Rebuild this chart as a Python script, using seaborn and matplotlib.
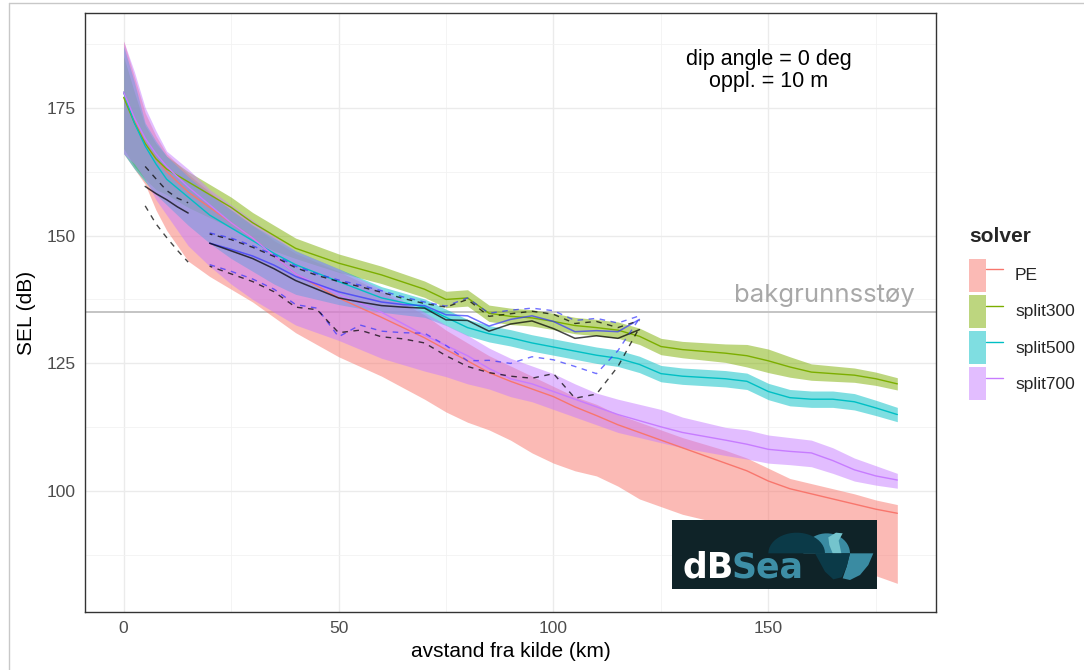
import numpy as np
import pandas as pd
import matplotlib
matplotlib.use("Agg")
import matplotlib.pyplot as plt
import seaborn as sns
from matplotlib.patches import Patch, Rectangle, Polygon
from matplotlib.lines import Line2D
from matplotlib.legend_handler import HandlerTuple

# ---------------- data ----------------
model_km = [0, 2.5, 5, 7.5, 10, 15, 20, 25, 30, 35, 40, 50, 60, 70, 75, 80, 85, 90, 95, 100,
            105, 110, 115, 120, 125, 130, 140, 145, 150, 155, 160, 165, 170, 175, 180]

pe_mid = [178, 172.5, 168, 165, 162.5, 158.5, 155.5, 152.5, 149.5, 146, 142.5, 137.8, 134, 130, 127.7,
          125.5, 123.2, 121.5, 120, 118.5, 116.5, 114.8, 113, 111.5, 110, 108.5, 105.5, 104, 102, 100.5,
          99.5, 98.5, 97.5, 96.5, 95.7]
pe_hi = [188, 181, 174, 169.5, 166, 162, 158.5, 155, 152, 149, 146.5, 143, 139, 134.5, 131.5, 129, 126.5,
         124.5, 122.5, 120.5, 118.5, 117, 115, 113.5, 112, 110.5, 108, 106.5, 104.5, 102.5, 101.5, 100.5,
         99.5, 98.3, 97.4]
pe_lo = [166, 163, 160, 155, 151, 145, 142, 139.5, 137, 134, 131, 126.3, 122.5, 118, 115.5, 113.5, 112,
         110, 107.5, 105.5, 104, 103, 101, 98.5, 97, 95.5, 93.5, 92.5, 91, 89.5, 88, 86.5, 85, 83.5, 82]

s300_mid = [177, 172, 168, 165, 163, 160.5, 158, 155.5, 152.5, 150, 147.5, 144.6, 142.3, 139.5, 137.5,
            137.8, 134.8, 134.2, 133.9, 133.2, 132.4, 132, 131.5, 130.3, 128.3, 127.7, 127, 126.5, 125.5,
            124.3, 123.3, 123, 122.7, 122, 121]
s300_hi = [185, 178, 171.5, 168, 165.5, 162.5, 160, 157.5, 154.5, 152, 149.5, 146.4, 144, 141.1, 139.1,
           139.4, 136.4, 135.8, 135.5, 134.8, 134, 133.6, 133.1, 131.9, 129.9, 129.3, 128.8, 128.7, 127.8,
           126.3, 124.9, 124.5, 124.1, 123.3, 122.2]
s300_lo = [167, 163.5, 161, 159, 158, 155.5, 153.5, 151.5, 149, 147, 145.5, 142.8, 140.6, 137.9, 135.9,
           136.2, 133.2, 132.6, 132.3, 131.6, 130.8, 130.4, 129.9, 128.7, 126.7, 126.1, 125.2, 124.3, 123.2,
           122.3, 121.7, 121.5, 121.3, 120.7, 119.8]

s500_mid = [178, 172, 167.5, 164, 161, 157.5, 154, 151.5, 149, 146.5, 144.3, 141, 137.8, 136, 134, 132,
            130.8, 130, 129, 128.2, 127.4, 126.6, 126, 124.8, 123, 122.5, 122, 121.5, 119.5, 118.3, 118,
            118, 117.5, 116.3, 115]
s500_hi = [187, 180, 172, 168.5, 165.5, 161.5, 158, 155, 152, 149.5, 147, 143.5, 140, 137.6, 135.6,
           133.6, 132.4, 131.6, 130.6, 129.8, 129, 128.2, 127.6, 126.4, 124.6, 124.1, 123.6, 123.1, 121.1,
           119.9, 119.6, 119.6, 119.1, 117.8, 116.4]
s500_lo = [166, 163, 160.5, 158, 156, 152, 148.5, 145.5, 143, 140.5, 138.5, 136.5, 135, 134, 132.4,
           130.4, 129.2, 128.4, 127.4, 126.6, 125.8, 125, 124.4, 123.2, 121.4, 120.9, 120.4, 119.9, 117.9,
           116.7, 116.4, 116.4, 115.9, 114.8, 113.6]

s700_mid = [178, 173, 169, 166, 163.5, 159.5, 156, 152.5, 149.5, 146, 142.5, 138.5, 135, 130.5, 128.5,
            126.5, 124, 122, 121, 119.5, 118, 116.5, 115, 113.8, 112.6, 111.5, 110, 109.2, 108.2, 107.8,
            107.5, 106, 104.2, 103, 102.2]
s700_hi = [188, 182, 175, 170.5, 166.5, 163, 159, 156, 153, 150, 147, 143.5, 139.5, 135, 132.5, 130.5, 128,
           126, 124.5, 123, 121, 119.2, 118, 117, 116, 114.5, 112.5, 112, 111, 110.5, 110, 108.5, 106.5,
           105, 103.5]
s700_lo = [166, 164, 161, 157, 154, 148, 144, 140.5, 137.5, 135, 132.5, 129.5, 126, 123.5, 122.4, 121,
           120, 118.5, 117.5, 116, 114.5, 113, 111.5, 110.5, 109.5, 108.5, 107, 106.3, 105.5, 105.2, 104.8,
           103.5, 102, 101.2, 100.6]

solvers = ["PE", "split300", "split500", "split700"]
solver_colors = ["#F8766D", "#7CAE00", "#00BFC4", "#C77CFF"]

# measurements, first segment
meas_a_km = [5, 7.5, 10, 12.5, 15]
meas_a_black = [159.6, 158.2, 157, 155.6, 154.4]
meas_a_black_hi = [163.5, 161.1, 158.8, 157.3, 156.4]
meas_a_black_lo = [155.8, 152.3, 149.6, 147.1, 144.8]

# measurements, second segment
meas_b_km = [20, 25, 30, 35, 40, 45, 50, 55, 60, 65, 70, 75, 80, 85, 90, 95, 100, 105, 110, 115, 120]
meas_b_black = [148.5, 147, 145.5, 143.5, 141.2, 139.5, 137.8, 137, 136.3, 136, 135.8, 133.5, 133.4,
                131.3, 132.7, 133.3, 131.8, 129.9, 130.4, 129.9, 131.6]
meas_b_blue = [148.5, 147.3, 146, 144.2, 142, 140.5, 139, 138, 137, 136.5, 136.3, 134.5, 134.3, 132.3,
               133.6, 134.3, 133.2, 131.2, 131.4, 131.2, 133.6]
meas_b_blue_hi = [150.5, 149.5, 148, 146.2, 144, 142.5, 141.3, 140.3, 139.2, 138, 137, 136.2, 137.8,
                  134.8, 135.4, 135.8, 135.3, 133.4, 133.8, 132.9, 134.3]
meas_b_black_hi = [150.3, 149.2, 147.7, 145.9, 143.7, 142.2, 141, 140, 138.9, 137.7, 136.7, 136, 137.5,
                   134.2, 134.7, 135.2, 134.6, 132.8, 133.2, 132, 133.4]
meas_b_blue_lo = [144.3, 143, 141.5, 139.5, 136.5, 135.8, 130.2, 132.5, 131.3, 131, 130.9, 128.5, 125.5,
                  125.6, 125, 126.3, 125.7, 124.4, 123, 127.5, 133.8]
meas_b_black_lo = [144, 142.5, 141, 139, 136, 135.5, 131, 131.5, 130.2, 129.8, 129, 126.5, 124.4, 123.2,
                   122.5, 122.1, 123, 118.2, 119, 124.4, 132]

background_level = 135
background_label = "bakgrunnsstøy"
annotation = "dip angle = 0 deg\noppl. = 10 m"
x_ticks = [0, 50, 100, 150]
y_ticks = [100, 125, 150, 175]

# ---------------- figure ----------------
sns.set_theme(style="whitegrid")
plt.rcParams['font.family'] = ['Liberation Sans', 'DejaVu Sans']

W, H = 1084, 670
fig = plt.figure(figsize=(W / 100, H / 100), dpi=100)
fig.patch.set_facecolor("white")
ax = fig.add_axes([85 / W, 1 - 612 / H, (936 - 85) / W, (612 - 13) / H])
ax.set_facecolor("white")

mids = [pe_mid, s300_mid, s500_mid, s700_mid]
his = [pe_hi, s300_hi, s500_hi, s700_hi]
los = [pe_lo, s300_lo, s500_lo, s700_lo]

long = []
for name, m in zip(solvers, mids):
    long.append(pd.DataFrame({"km": model_km, "SEL": m, "solver": name}))
long = pd.concat(long, ignore_index=True)

for name, col, lo, hi in zip(solvers, solver_colors, los, his):
    ax.fill_between(model_km, lo, hi, color=col, alpha=0.5, linewidth=0, zorder=2)

sns.lineplot(data=long, x="km", y="SEL", hue="solver", palette=dict(zip(solvers, solver_colors)),
             hue_order=solvers, linewidth=1.0, legend=False, ax=ax, zorder=3, sort=False)

# background line
ax.axhline(background_level, color="#C4C4C4", linewidth=1.4, zorder=1.5)

# measurement lines
blk = (0, 0, 0, 0.72)
blu = (0.2, 0.2, 1.0, 0.7)
def mline(x, y, color, ls, lw=1.0):
    sns.lineplot(x=x, y=y, color=color, linestyle=ls, linewidth=lw, ax=ax, zorder=4, sort=False)

mline(meas_a_km, meas_a_black, blk, "-", 1.1)
mline(meas_a_km, meas_a_black_hi, blk, (0, (4, 4)))
mline(meas_a_km, meas_a_black_lo, blk, (0, (4, 4)))
mline(meas_b_km, meas_b_blue, blu, "-", 1.1)
mline(meas_b_km, meas_b_black, blk, "-", 1.1)
mline(meas_b_km, meas_b_blue_hi, blu, (0, (4, 4)))
mline(meas_b_km, meas_b_black_hi, blk, (2, (4, 4)))
mline(meas_b_km, meas_b_blue_lo, blu, (0, (4, 4)))
mline(meas_b_km, meas_b_black_lo, blk, (2, (4, 4)))

# axes styling
ax.set_xlim(-9, 189)
ax.set_ylim(76.4, 193.5)
ax.set_xticks(x_ticks)
ax.set_yticks(y_ticks)
ax.set_xticks([25, 75, 125, 175], minor=True)
ax.set_yticks([87.5, 112.5, 137.5, 162.5, 187.5], minor=True)
ax.grid(True, which="major", color="#EBEBEB", linewidth=1.0, zorder=0)
ax.grid(True, which="minor", color="#F2F2F2", linewidth=0.6, zorder=0)
ax.set_axisbelow(True)
for s in ax.spines.values():
    s.set_color("#333333")
    s.set_linewidth(1.0)
ax.tick_params(axis="both", which="major", length=3.5, width=0.8, color="#333333",
               labelcolor="#4D4D4D", labelsize=12.5, pad=3)
ax.tick_params(axis="both", which="minor", length=0)
ax.set_xlabel("avstand fra kilde (km)", fontsize=15, color="black", labelpad=4)
ax.set_ylabel("SEL (dB)", fontsize=15, color="black", labelpad=8)

# texts
ax.text(150, 182.3, annotation, ha="center", va="center", fontsize=15.5, color="black",
        linespacing=1.05, zorder=6)
ax.text(184.2, 137.1, background_label, ha="right", va="baseline", fontsize=18.5,
        color="#A8A8A8", family=["Inter", "DejaVu Sans"], zorder=6)

# legend
handles = []
for col in solver_colors:
    p = Patch(facecolor=col, alpha=0.5, edgecolor="none")
    l = Line2D([], [], color=col, linewidth=1.0)
    handles.append((p, l))
leg = fig.legend(handles, solvers, title="solver", loc="upper left",
                 bbox_to_anchor=(969 / W, 1 - 227 / H), frameon=False, fontsize=12.5,
                 title_fontproperties={"size": 15, "weight": "bold"},
                 handler_map={tuple: HandlerTuple(ndivide=None, pad=0)},
                 handlelength=1.95, handleheight=2.55, labelspacing=0.18, handletextpad=0.7,
                 borderpad=0, borderaxespad=0)
leg._legend_box.align = "left"
leg._legend_box.sep = 9

# logo (pixel coordinates converted to figure fraction)
def fx(x):
    return x / W
def fy(y):
    return 1 - y / H

fig.add_artist(Rectangle((fx(672), fy(588.5)), fx(877) - fx(672), fy(520) - fy(588.5),
                         transform=fig.transFigure, facecolor="#0F2328", edgecolor="none", zorder=10))
def poly(pts, color):
    # pts in logo-zoom units: px = 660 + X/3, py = 500 + Y/3
    fig.add_artist(Polygon([(fx(660 + x / 3), fy(500 + y / 3)) for x, y in pts], closed=True,
                           transform=fig.transFigure, facecolor=color, edgecolor="none", zorder=11))
t = np.linspace(np.pi, 0, 24)
# mid teal crest + right trough
poly([(430, 160)] + [(500 + 70 * np.cos(a), 160 - 60 * np.sin(a)) for a in t] + [(640, 160),
     (625, 195), (600, 225), (570, 240), (548, 235), (560, 200), (570, 160)], "#3A8BA2")
# light crest
poly([(505, 112), (528, 98), (548, 100), (536, 122), (544, 160), (518, 160), (508, 135)], "#74C4CD")
# dark hump
poly([(325, 160)] + [(410 + 85 * np.cos(a), 160 - 62 * np.sin(a)) for a in t] + [(495, 160)], "#0B3A48")
# dark trough
poly([(465, 160), (570, 160), (560, 200), (545, 232), (520, 238), (495, 215)], "#0B3A48")
fig.text(fx(683), fy(577), "dB", color="white", fontsize=25, fontweight="bold",
         family=["DejaVu Sans"], va="baseline", ha="left", zorder=12)
fig.text(fx(732), fy(577), "Sea", color="#3D8EA6", fontsize=25, fontweight="bold",
         family=["DejaVu Sans"], va="baseline", ha="left", zorder=12)

# outer frame of screenshot
fig.add_artist(Line2D([fx(9), fx(9)], [0, fy(3)], transform=fig.transFigure, color="#C8C8C8", lw=1))
fig.add_artist(Line2D([fx(9), 1], [fy(3), fy(3)], transform=fig.transFigure, color="#C8C8C8", lw=1))

fig.savefig("out.png", dpi=100, facecolor="white")
